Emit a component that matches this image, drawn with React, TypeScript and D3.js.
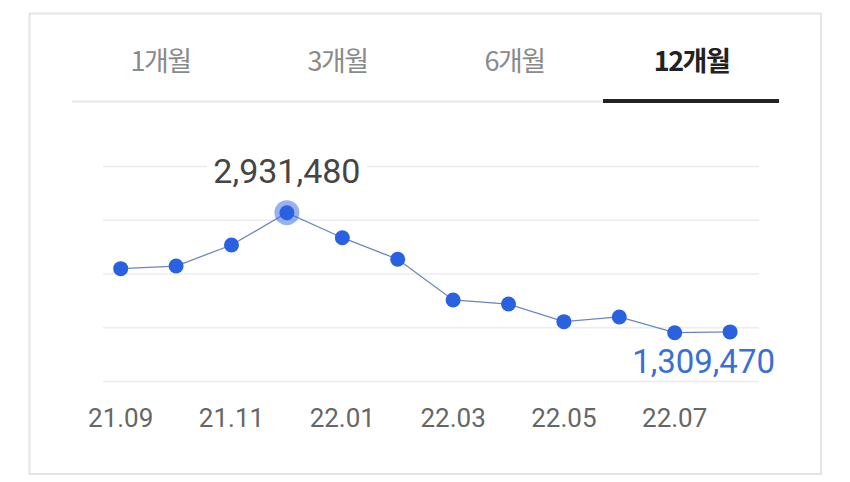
import React from "react";
import * as d3 from "d3";

const months = ["21.09", "21.10", "21.11", "21.12", "22.01", "22.02", "22.03", "22.04", "22.05", "22.06", "22.07", "22.08"];
const prices = [2170000, 2206000, 2492000, 2931480, 2591000, 2298000, 1744000, 1689000, 1449000, 1513000, 1299000, 1309470];
const tickLabels = ["21.09", "21.11", "22.01", "22.03", "22.05", "22.07"];
const tabs = ["1개월", "3개월", "6개월", "12개월"];
const activeTab = "12개월";
const yDomain = [635000, 3560000];
const gridCount = 5;

const W = 850;
const H = 482;

export default function App() {
  const x = d3.scalePoint<string>().domain(months).range([120.7, 730.1]);
  const y = d3.scaleLinear().domain(yDomain).range([381.5, 166.5]);
  const gridVals = d3.range(gridCount).map((i) => yDomain[0] + ((yDomain[1] - yDomain[0]) * i) / (gridCount - 1));
  const line = d3
    .line<number>()
    .x((_, i) => x(months[i])!)
    .y((d) => y(d));

  const maxIdx = prices.indexOf(d3.max(prices)!);
  const lastIdx = prices.length - 1;

  const tabScale = d3.scaleBand<string>().domain(tabs).range([72, 780]);
  const activeX = tabScale(activeTab)!;

  const numFont = "Roboto, 'Noto Sans', sans-serif";
  const krFont = "'Noto Sans CJK KR', 'Noto Sans', sans-serif";

  return (
    <svg width={W} height={H} style={{ position: "absolute", left: 0, top: 0, background: "#fff" }}>
      <rect x={29.5} y={13.5} width={791.5} height={460.5} fill="#fff" stroke="#e4e4e4" strokeWidth={2} />

      {/* tabs */}
      <line x1={72} x2={780} y1={101.5} y2={101.5} stroke="#e6e6e6" strokeWidth={2} />
      {tabs.map((t) => (
        <text
          key={t}
          x={tabScale(t)! + tabScale.bandwidth() / 2}
          y={71}
          textAnchor="middle"
          fontFamily={krFont}
          fontSize={27}
          fontWeight={t === activeTab ? 700 : 400}
          fill={t === activeTab ? "#222" : "#8a8a8a"}
          letterSpacing={-1.5}
        >
          {t}
        </text>
      ))}
      <rect x={activeX} y={99} width={tabScale.bandwidth() - 1} height={4} fill="#222" />

      {/* grid */}
      {gridVals.map((v, i) => (
        <line key={i} x1={103} x2={759} y1={y(v)} y2={y(v)} stroke="#ececec" strokeWidth={1.5} />
      ))}

      {/* max label background */}
      <rect x={x(months[maxIdx])! - 80} y={150} width={160} height={36} fill="#fff" />
      <text
        x={x(months[maxIdx])!}
        y={183}
        textAnchor="middle"
        fontFamily={numFont}
        fontSize={34}
        fill="#454545"
      >
        {d3.format(",")(prices[maxIdx])}
      </text>

      <path d={line(prices)!} fill="none" stroke="#6a86c2" strokeWidth={1.3} />
      <circle cx={x(months[maxIdx])!} cy={y(prices[maxIdx])} r={12.5} fill="#2f66e0" fillOpacity={0.5} />
      {prices.map((p, i) => (
        <circle key={i} cx={x(months[i])!} cy={y(p)} r={7.5} fill="#2a61e0" />
      ))}

      <text
        x={775}
        y={373}
        textAnchor="end"
        fontFamily={numFont}
        fontSize={33}
        fill="#3a6fd6"
      >
        {d3.format(",")(prices[lastIdx])}
      </text>

      {tickLabels.map((t) => (
        <text key={t} x={x(t)!} y={427} textAnchor="middle" fontFamily={numFont} fontSize={26} fill="#666">
          {t}
        </text>
      ))}
    </svg>
  );
}
